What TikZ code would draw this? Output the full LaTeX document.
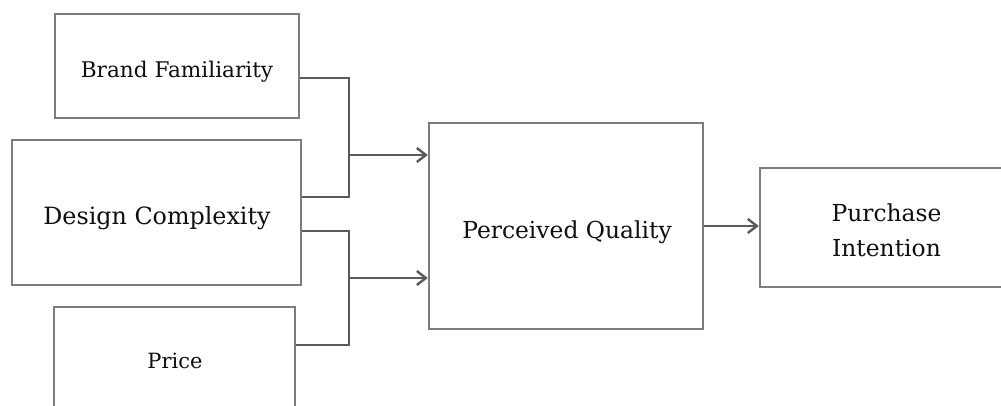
\documentclass[tikz,border=0pt]{standalone}
\usepackage{fontspec}
\setmainfont{DejaVu Serif}
\usetikzlibrary{arrows.meta,calc}
\definecolor{boxgray}{RGB}{125,125,125}
\definecolor{linegray}{RGB}{90,90,90}
\definecolor{txt}{RGB}{15,15,15}
\tikzset{
  box/.style={draw=boxgray, line width=2.4pt, rectangle, inner sep=0pt},
  lbl/.style={text=txt, anchor=base, inner sep=0pt},
  conn/.style={draw=linegray, line width=2.4pt},
  arr/.style={draw=linegray, line width=2.4pt, -{Straight Barb[length=9pt,width=14pt,line width=2.4pt]}},
}
\begin{document}
\begin{tikzpicture}[x=1pt,y=-1pt]
\useasboundingbox (0,0) rectangle (1001,406);
\clip (0,0) rectangle (1001,406);
\fill[white] (0,0) rectangle (1001,406);
% boxes
\node[box, minimum width=244pt, minimum height=104pt] (bf) at (177,66) {};
\node[box, minimum width=289pt, minimum height=145pt] (dc) at (156.5,212.5) {};
\node[box, minimum width=241pt, minimum height=106pt] (pr) at (174.5,360) {};
\node[box, minimum width=274pt, minimum height=206pt] (pq) at (566,226) {};
\node[box, minimum width=252pt, minimum height=119pt] (pi) at (886,227.5) {};
% labels
\node[lbl, font=\fontsize{21.6}{26}\selectfont] (bft) at (177,78) {Brand Familiarity};
\node[lbl, font=\fontsize{23.8}{28}\selectfont] (dct) at (157,225) {Design Complexity};
\node[lbl, font=\fontsize{21}{26}\selectfont] (prt) at (175,368) {Price};
\node[lbl, font=\fontsize{23.4}{28}\selectfont] (pqt) at (567,238) {Perceived Quality};
\node[text=txt, inner sep=0pt, align=center, text depth=0pt, font=\fontsize{23.4}{35}\selectfont] (pit) at (886.5,230.5) {Purchase\\Intention};
% junctions
\coordinate (j1) at (349,155);
\coordinate (j2) at (349,278);
% connectors
\draw[conn] ([yshift=-12pt]bf.east) -| (j1) |- ([yshift=15.5pt]dc.east);
\draw[arr] (j1) -- (j1 -| pq.west);
\draw[conn] ([yshift=-18.5pt]dc.east) -| (j2) |- ([yshift=15pt]pr.east);
\draw[arr] (j2) -- (j2 -| pq.west);
\draw[arr] (pq.east) -- (pq.east -| pi.west);
\end{tikzpicture}
\end{document}
